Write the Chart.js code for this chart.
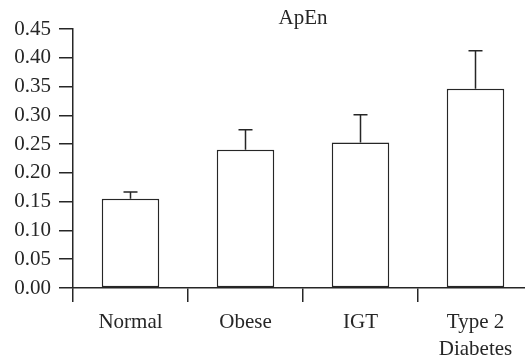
<!DOCTYPE html>
<html>
<head>
<meta charset="utf-8">
<script src="https://cdn.jsdelivr.net/npm/chart.js@4/dist/chart.umd.min.js"></script>
<style>
  html, body { margin: 0; padding: 0; overflow: hidden; background: #fff; }
  canvas { display: block; }
</style>
</head>
<body>
<canvas id="c" width="540" height="355"></canvas>
<script>
// Approximate entropy (ApEn) by group: mean and upper error
const groups = [['Normal'], ['Obese'], ['IGT'], ['Type 2', 'Diabetes']];
const apenMean = [0.155, 0.240, 0.253, 0.346];
const apenError = [0.012, 0.035, 0.048, 0.066];
const yTicks = [0, 0.05, 0.10, 0.15, 0.20, 0.25, 0.30, 0.35, 0.40, 0.45];

const INK = '#262626';
const FONT = { family: "'Liberation Serif', 'Times New Roman', serif", size: 21 };

// One-sided (upper) error bars with a short cap
const errorBars = {
  id: 'errorBars',
  afterDatasetsDraw(chart) {
    const ctx = chart.ctx;
    const y = chart.scales.y;
    const meta = chart.getDatasetMeta(0);
    ctx.save();
    ctx.strokeStyle = INK;
    ctx.lineWidth = 1.5;
    meta.data.forEach((bar, i) => {
      const yBase = y.getPixelForValue(apenMean[i]);
      const yTop = y.getPixelForValue(apenMean[i] + apenError[i]);
      ctx.beginPath();
      ctx.moveTo(bar.x, yBase);
      ctx.lineTo(bar.x, yTop);
      ctx.moveTo(bar.x - 7, yTop);
      ctx.lineTo(bar.x + 7, yTop);
      ctx.stroke();
    });
    ctx.restore();
  }
};

new Chart(document.getElementById('c'), {
  type: 'bar',
  data: {
    labels: groups,
    datasets: [{
      data: apenMean,
      backgroundColor: '#ffffff',
      borderColor: INK,
      borderWidth: 1.5,
      borderSkipped: false,
      barPercentage: 0.5,
      categoryPercentage: 1.0
    }]
  },
  options: {
    responsive: false,
    animation: false,
    layout: { padding: { left: 0, right: 7, top: 0, bottom: 0 } },
    plugins: {
      legend: { display: false },
      tooltip: { enabled: false },
      title: {
        display: true,
        text: 'ApEn',
        color: INK,
        fullSize: false,
        font: { ...FONT, weight: 'normal', lineHeight: 1.0 },
        padding: { top: 8, bottom: 0 }
      }
    },
    scales: {
      x: {
        offset: true,
        grid: {
          offset: true,
          drawOnChartArea: false,
          tickLength: 14,
          color: INK,
          lineWidth: 1.5
        },
        border: { color: INK, width: 1.5 },
        ticks: {
          color: INK,
          font: { ...FONT, lineHeight: 1.27 },
          padding: 7,
          maxRotation: 0,
          autoSkip: false
        },
        afterFit(scale) { scale.height = 67; }
      },
      y: {
        min: 0,
        max: 0.45,
        afterBuildTicks(scale) {
          scale.ticks = yTicks.map(v => ({ value: v }));
        },
        grid: {
          drawOnChartArea: false,
          tickLength: 14,
          color: INK,
          lineWidth: 1.5
        },
        border: { color: INK, width: 1.5 },
        ticks: {
          color: INK,
          font: FONT,
          padding: 8,
          callback: v => v.toFixed(2)
        },
        afterFit(scale) { scale.width = 73; }
      }
    }
  },
  plugins: [errorBars]
});
</script>
</body>
</html>
